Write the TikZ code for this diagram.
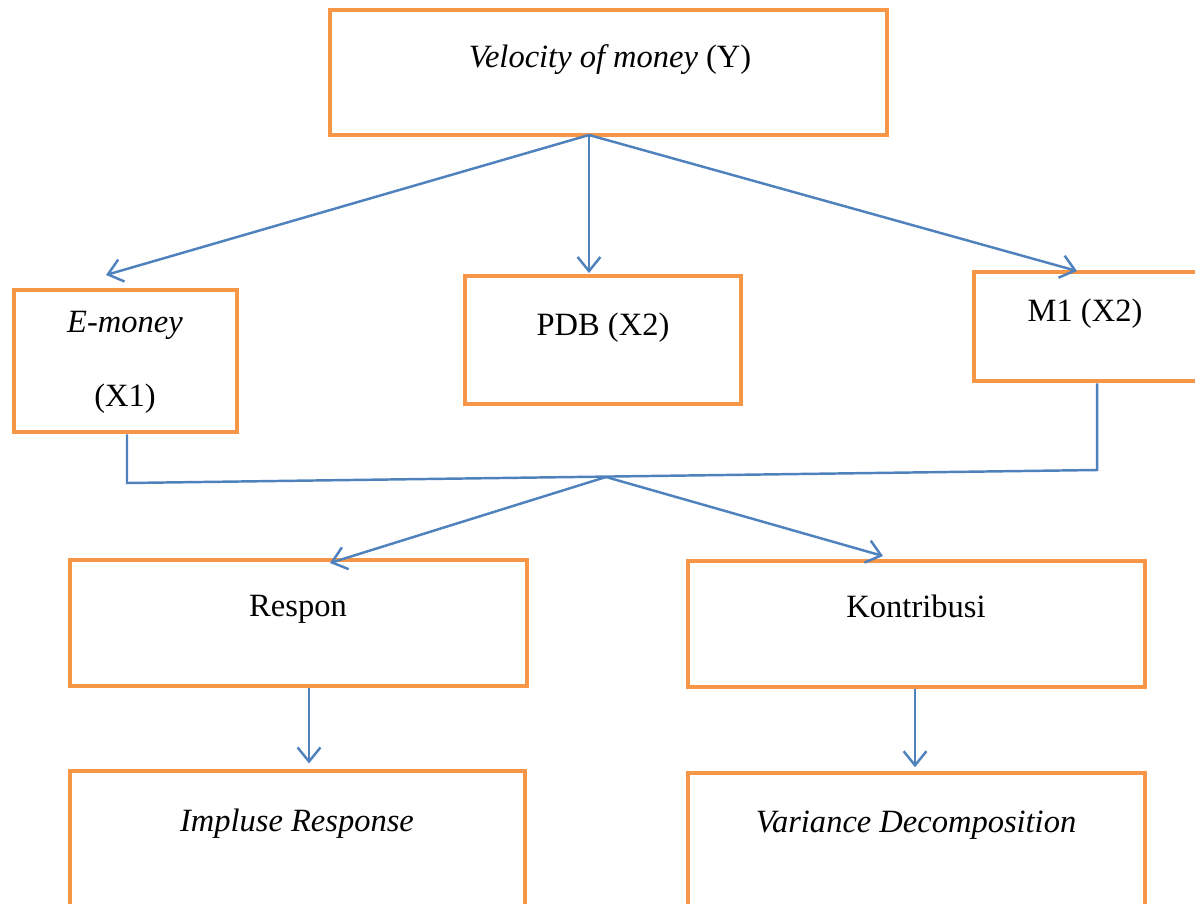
\documentclass[tikz,border=0pt]{standalone}
\usepackage{fontspec}
\setmainfont{Liberation Serif}
\usetikzlibrary{arrows.meta}

\definecolor{boxorange}{HTML}{F79646}
\definecolor{linkblue}{HTML}{4F81BD}

\tikzset{
  box/.style={draw=boxorange, line width=2.6pt, inner sep=0pt},
  lbl/.style={font=\fontsize{18.5}{22}\selectfont, inner sep=0pt, anchor=base},
  link/.style={draw=linkblue, line width=1.4pt},
  arr/.style={link, -{Straight Barb[length=8pt,width=13pt]}}
}

\begin{document}
\begin{tikzpicture}[x=0.02cm, y=-0.02cm]
\useasboundingbox (0,0) rectangle (1195,903);
\clip (0,0) rectangle (1195,903);

% boxes
\node [box, minimum width=11.14cm, minimum height=2.50cm] (vel)      at (608.5, 72.5) {};
\node [box, minimum width=4.46cm,  minimum height=2.84cm] (emoney)   at (125.5,361)   {};
\node [box, minimum width=5.52cm,  minimum height=2.56cm] (pdb)      at (603,340)     {};
\node [box, minimum width=4.92cm,  minimum height=2.18cm] (m1)       at (1097,326.5)  {};
\node [box, minimum width=9.14cm,  minimum height=2.52cm] (respon)   at (298.5,623)   {};
\node [box, minimum width=9.14cm,  minimum height=2.52cm] (kontr)    at (916.5,624)   {};
\node [box, minimum width=9.10cm,  minimum height=2.88cm] (impulse)  at (297.5,843)   {};
\node [box, minimum width=9.14cm,  minimum height=2.84cm] (variance) at (916.5,844)   {};

% texts
\node [lbl] (vel-t)      at (610,67)   {\textit{Velocity of money} (Y)};
\node [lbl] (emoney-t)   at (125,332)  {\textit{E-money}};
\node [lbl] (emoney-x)   at (125,406)  {(X1)};
\node [lbl] (pdb-t)      at (603,335)  {PDB (X2)};
\node [lbl] (m1-t)       at (1085,321) {M1 (X2)};
\node [lbl] (respon-t)   at (298,616)  {Respon};
\node [lbl] (kontr-t)    at (916,617)  {Kontribusi};
\node [lbl] (impulse-t)  at (297,831)  {\textit{Impluse Response}};
\node [lbl] (variance-t) at (916,832)  {\textit{Variance Decomposition}};

% connectors
\coordinate (vtop)  at (589,135);
\coordinate (to-e)  at (106,275);
\coordinate (to-p)  at (589,273);
\coordinate (to-m)  at (1077,271);
\coordinate (jl)    at (127,483);
\coordinate (jr)    at (1097,470);
\coordinate (jm)    at (606,477);
\coordinate (to-r)  at (330,563);
\coordinate (to-k)  at (883,556);

\draw [arr] (vtop) -- (to-e);
\draw [arr] (vtop) -- (to-p);
\draw [arr] (vtop) -- (to-m);

\draw [link] (emoney.south -| jl) -- (jl) -- (jr) -- (m1.south);

\draw [arr] (jm) -- (to-r);
\draw [arr] (jm) -- (to-k);

\draw [arr, shorten >=3pt] ([xshift=0.21cm]respon.south) -- ([xshift=0.21cm]respon.south |- impulse.north);
\draw [arr, shorten >=2pt] ([xshift=-0.03cm]kontr.south) -- ([xshift=-0.03cm]kontr.south |- variance.north);
\end{tikzpicture}
\end{document}
